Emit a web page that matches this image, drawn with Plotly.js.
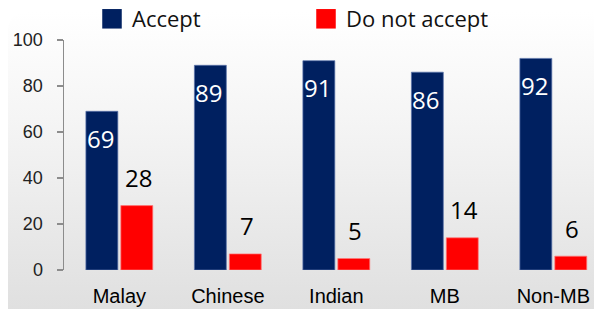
<!DOCTYPE html>
<html>
<head>
<meta charset="utf-8">
<script src="https://cdn.plot.ly/plotly-3.0.1.min.js"></script>
<style>
html, body { margin: 0; padding: 0; background: #ffffff; overflow: hidden; }
#wrap { position: relative; width: 594px; height: 309px; overflow: hidden; }
#bg { position: absolute; left: 8px; top: 12px; width: 620px; height: 330px; border-radius: 18px;
      background: linear-gradient(to bottom, #ffffff 0%, #f4f4f4 35%, #dcdcdc 100%); }
#chart { position: absolute; left: 0; top: 0; width: 594px; height: 309px; }
</style>
</head>
<body>
<div id="wrap"><div id="bg"></div><div id="chart"></div></div>
<script>
const categories = ["Malay", "Chinese", "Indian", "MB", "Non-MB"];
const acceptValues = [69, 89, 91, 86, 92];
const notAcceptValues = [28, 7, 5, 14, 6];
const seriesNames = ["Accept", "Do not accept"];
const yTicks = [0, 20, 40, 60, 80, 100];

const navy = "#002060";
const red = "#FF0000";

const traces = [
  { type: "bar", x: categories, y: acceptValues, name: seriesNames[0], showlegend: false,
    marker: { color: navy, line: { color: "rgba(90,115,170,0.9)", width: 0.8 } }, hoverinfo: "none" },
  { type: "bar", x: categories, y: notAcceptValues, name: seriesNames[1], showlegend: false,
    marker: { color: red, line: { color: "rgba(255,120,120,0.9)", width: 0.8 } }, hoverinfo: "none" },
  { type: "scatter", mode: "markers", x: [null], y: [null], name: seriesNames[0],
    marker: { symbol: "square", size: 20, color: navy } },
  { type: "scatter", mode: "markers", x: [null], y: [null], name: seriesNames[1],
    marker: { symbol: "square", size: 20, color: red } }
];

const annotations = [];
categories.forEach((c, i) => {
  annotations.push({ x: c, y: acceptValues[i], xref: "x", yref: "y", text: String(acceptValues[i]),
    showarrow: false, xshift: -19, yshift: -27, yanchor: "middle",
    font: { family: "Open Sans, sans-serif", size: 24, color: "#ffffff" } });
  annotations.push({ x: c, y: notAcceptValues[i], xref: "x", yref: "y", text: String(notAcceptValues[i]),
    showarrow: false, xshift: 19, yshift: 28, yanchor: "middle",
    font: { family: "Open Sans, sans-serif", size: 24, color: "#000000" } });
});

const layout = {
  width: 594, height: 309,
  margin: { l: 64, r: 0, t: 36, b: 39, pad: 0 },
  paper_bgcolor: "rgba(0,0,0,0)",
  plot_bgcolor: "rgba(0,0,0,0)",
  barmode: "group",
  bargap: 0.356,
  bargroupgap: 0.086,
  font: { family: "Liberation Sans, Arial, sans-serif", color: "#000" },
  xaxis: {
    type: "category", range: [-0.51, 4.375], showgrid: false, zeroline: false,
    showline: false, ticks: "outside", ticklen: 8, tickcolor: "rgba(0,0,0,0)",
    tickfont: { size: 20, color: "#000" }
  },
  yaxis: {
    range: [0, 100], tickvals: yTicks, showgrid: false, zeroline: false,
    showline: true, linecolor: "#8c8c8c", linewidth: 1.5,
    ticks: "outside", ticklen: 6, tickcolor: "#8c8c8c", tickwidth: 1.5,
    tickfont: { size: 18, color: "#222" }, ticklabelstandoff: 10
  },
  showlegend: true,
  legend: {
    orientation: "h", xref: "container", yref: "container",
    x: 92 / 594, xanchor: "left", y: 1 - 19 / 309, yanchor: "middle",
    bgcolor: "rgba(0,0,0,0)", borderwidth: 0, entrywidth: 169,
    font: { family: "Open Sans, sans-serif", size: 22, color: "#111" }
  },
  annotations: annotations
};

function enlargeLegendSymbols(gd) {
  gd.querySelectorAll(".legend .legendpoints path").forEach(p => {
    if (p.dataset.scaled) return;
    p.dataset.scaled = "1";
    const t = p.getAttribute("transform") || "";
    p.setAttribute("transform", t + " scale(1.22)");
  });
}

Plotly.newPlot("chart", traces, layout, { staticPlot: true, displayModeBar: false }).then(gd => {
  enlargeLegendSymbols(gd);
  gd.on("plotly_afterplot", () => enlargeLegendSymbols(gd));
});
</script>
</body>
</html>
